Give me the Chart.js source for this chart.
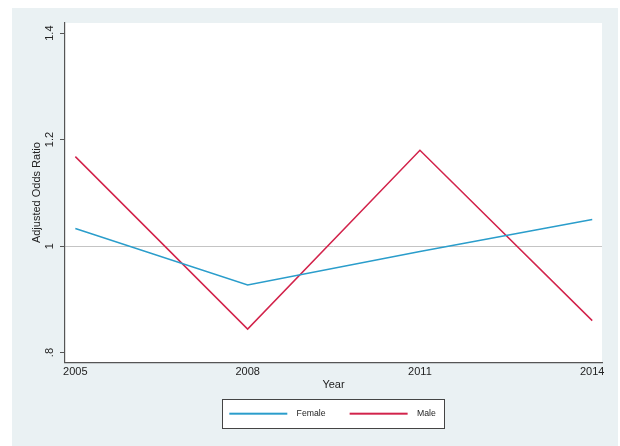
<!DOCTYPE html>
<html>
<head>
<meta charset="utf-8">
<title>Adjusted Odds Ratio by Year</title>
<script src="https://cdn.jsdelivr.net/npm/chart.js@4/dist/chart.umd.min.js"></script>
<style>
  html, body { margin: 0; padding: 0; background: #fff; }
  #wrap { width: 620px; height: 446px; position: relative; }
</style>
</head>
<body>
<div id="wrap"><canvas id="chart"></canvas></div>
<script>
// Survey years and adjusted odds ratios per sex
var years = [2005, 2008, 2011, 2014];
var female = [1.033, 0.927, 0.990, 1.050];
var male = [1.168, 0.844, 1.180, 0.860];
var yTicks = [0.8, 1, 1.2, 1.4];

var BLUE = '#2a9dcb';
var RED = '#d2234b';
var FONT = '"Liberation Sans", Arial, Helvetica, sans-serif';
var BOX_RIGHT_PAD = 9;

function points(vals) {
    return years.map(function (yr, i) { return {x: yr, y: vals[i]}; });
}

// small line swatch used as the legend marker
function swatch(color) {
    var c = document.createElement('canvas');
    c.width = 70;
    c.height = 4;
    var g = c.getContext('2d');
    g.strokeStyle = color;
    g.lineWidth = 2;
    g.beginPath();
    g.moveTo(7, 2);
    g.lineTo(65, 2);
    g.stroke();
    return c;
}

var backdrop = {
    id: 'backdrop',
    // keep the framed legend centred under the plot region
    afterLayout: function (chart) {
        var lg = chart.legend, a = chart.chartArea;
        var hb = lg.legendHitBoxes;
        if (!hb || !hb.length) {
            return;
        }
        var pad = lg.options.labels.padding;
        var span = BOX_RIGHT_PAD + pad * (hb.length - 1);
        hb.forEach(function (b) { span += b.width; });
        var start = (lg.left + pad + lg.right - lg.lineWidths[0]) / 2;
        var dx = (a.left + a.right) / 2 - span / 2 - start;
        lg.left += dx;
        lg.right += dx;
    },
    beforeDraw: function (chart) {
        var ctx = chart.ctx;
        var a = chart.chartArea;
        ctx.save();
        ctx.fillStyle = '#eaf1f3';
        ctx.fillRect(12, 8, chart.width - 14, chart.height - 8);
        ctx.fillStyle = '#fff';
        ctx.fillRect(a.left, a.top, a.right - a.left, a.bottom - a.top);

        // framed legend box
        var boxes = chart.legend.legendHitBoxes;
        if (boxes && boxes.length) {
            var first = boxes[0], last = boxes[boxes.length - 1];
            var cy = first.top + first.height / 2;
            var x0 = first.left, x1 = last.left + last.width + BOX_RIGHT_PAD;
            ctx.fillStyle = '#fff';
            ctx.fillRect(x0, cy - 14.5, x1 - x0, 29);
            ctx.strokeStyle = '#444';
            ctx.lineWidth = 1;
            ctx.strokeRect(Math.round(x0) + 0.5, Math.round(cy - 14.5) + 0.5, Math.round(x1 - x0), 29);
        }
        ctx.restore();
    }
};

new Chart(document.getElementById('chart'), {
    type: 'line',
    data: {
        datasets: [{
            label: 'Female',
            data: points(female),
            borderColor: BLUE,
            borderWidth: 1.5,
            pointRadius: 0,
            pointStyle: swatch(BLUE),
            tension: 0
        }, {
            label: 'Male',
            data: points(male),
            borderColor: RED,
            borderWidth: 1.5,
            pointRadius: 0,
            pointStyle: swatch(RED),
            tension: 0
        }]
    },
    options: {
        responsive: true,
        maintainAspectRatio: false,
        animation: false,
        layout: { padding: { left: 12, top: 23, right: 18, bottom: 18 } },
        scales: {
            x: {
                type: 'linear',
                min: 2004.82,
                max: 2014.17,
                afterBuildTicks: function (scale) {
                    scale.ticks = years.map(function (v) { return {value: v}; });
                },
                afterFit: function (scale) { scale.height = 30; },
                grid: { display: false, drawTicks: false },
                border: { display: true, color: '#555', width: 1.2 },
                ticks: {
                    padding: 3,
                    maxRotation: 0,
                    color: '#222',
                    font: { family: FONT, size: 11 },
                    callback: function (v) { return String(v); }
                },
                title: {
                    display: true,
                    text: 'Year',
                    color: '#222',
                    font: { family: FONT, size: 11 },
                    padding: { top: 0, bottom: 0.5 }
                }
            },
            y: {
                min: 0.7817,
                max: 1.419,
                afterBuildTicks: function (scale) {
                    scale.ticks = yTicks.map(function (v) { return {value: v}; });
                },
                afterFit: function (scale) { scale.width = 53; },
                grid: {
                    drawOnChartArea: true,
                    tickLength: 5,
                    tickColor: '#555',
                    color: function (c) {
                        return c.tick && c.tick.value === 1 ? '#c4c4c4' : 'rgba(0,0,0,0)';
                    },
                    lineWidth: 1
                },
                border: { display: true, color: '#555', width: 1.2 },
                ticks: {
                    minRotation: 90,
                    maxRotation: 90,
                    crossAlign: 'center',
                    padding: 2,
                    color: '#222',
                    font: { family: FONT, size: 11 },
                    callback: function (v) {
                        return v === 1 ? '1' : String(v).replace(/^0/, '');
                    }
                },
                title: {
                    display: true,
                    text: 'Adjusted Odds Ratio',
                    color: '#222',
                    font: { family: FONT, size: 11 },
                    padding: { top: 18, bottom: 0 }
                }
            }
        },
        plugins: {
            legend: {
                position: 'bottom',
                fullSize: false,
                maxHeight: 44,
                labels: {
                    usePointStyle: true,
                    pointStyleWidth: 70,
                    padding: 17,
                    color: '#222',
                    font: { family: FONT, size: 8.7 }
                }
            },
            tooltip: { enabled: false }
        }
    },
    plugins: [backdrop]
});
</script>
</body>
</html>
